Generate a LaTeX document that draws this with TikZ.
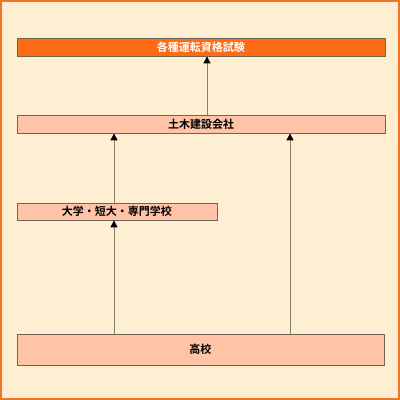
\documentclass[tikz,border=0pt]{standalone}
\usepackage{fontspec}
\newfontfamily\cjk{Noto Sans CJK JP}[UprightFont={* Bold},BoldFont={* Bold}]
\usetikzlibrary{arrows.meta}
\definecolor{bgc}{HTML}{FFEFD2}
\definecolor{frame}{HTML}{F57325}
\definecolor{topc}{HTML}{FF6A14}
\definecolor{boxc}{HTML}{FFC4A8}
\definecolor{edge}{HTML}{6E6458}
\definecolor{linec}{HTML}{8A8070}
\tikzset{
  box/.style={draw=edge, line width=0.8pt, inner sep=0pt, font=\cjk\fontsize{11}{13}\selectfont},
  conn/.style={draw=linec, line width=0.9pt, -{Triangle[length=7pt,width=7pt,color=black]}}
}
\begin{document}
\begin{tikzpicture}[x=1pt,y=-1pt]
\useasboundingbox (0,0) rectangle (400,400);
\fill[frame] (0,0) rectangle (400,400);
\fill[bgc] (2,2) rectangle (398,398);
\node[box, fill=topc, text=white, minimum width=368pt, minimum height=18pt] (a) at (201,47) {各種運転資格試験};
\node[box, fill=boxc, minimum width=368pt, minimum height=18pt] (b) at (201,124) {土木建設会社};
\node[box, fill=boxc, minimum width=200pt, minimum height=17pt] (c) at (117,211.5) {大学・短大・専門学校};
\node[box, fill=boxc, minimum width=367pt, minimum height=31pt] (d) at (200.5,349.5) {高校};
\draw[conn] (b.north -| 207,0) -- (a.south -| 207,0);
\draw[conn] (c.north -| 114,0) -- (b.south -| 114,0);
\draw[conn] (d.north -| 114,0) -- (c.south -| 114,0);
\draw[conn] (d.north -| 290,0) -- (b.south -| 290,0);
\end{tikzpicture}
\end{document}
